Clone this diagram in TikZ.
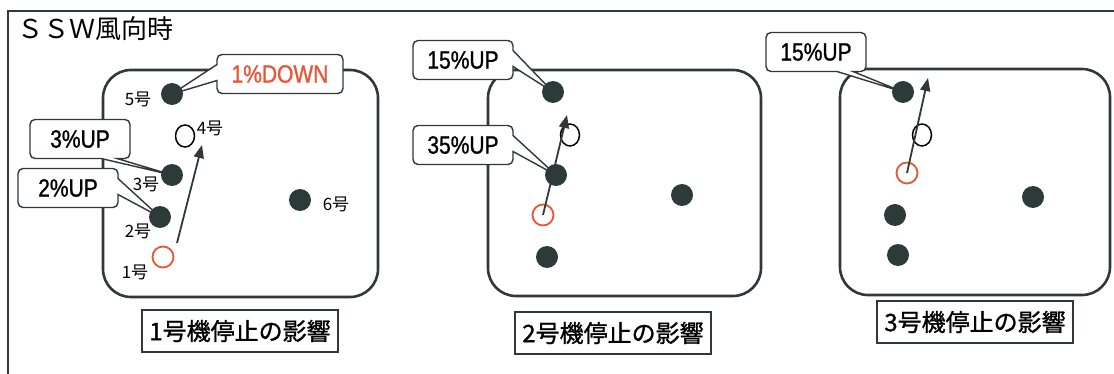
\documentclass[tikz,border=0pt]{standalone}
\usepackage{fontspec}
\setmainfont{Liberation Sans}
\newfontfamily\jpfont{Noto Sans CJK JP}
\newfontfamily\jpboldfont[FakeBold=1.2]{Noto Sans CJK JP}
\newfontfamily\pctfont[FakeStretch=0.84,FakeBold=1]{Liberation Sans}
\usetikzlibrary{shapes.callouts,shapes.geometric,arrows.meta,backgrounds}

\definecolor{dotgray}{RGB}{44,58,56}
\definecolor{linegray}{RGB}{50,55,55}
\definecolor{stopred}{RGB}{232,85,55}

\tikzset{
	unit/.style={circle,fill=dotgray,inner sep=0pt,minimum size=22pt},
	stopped/.style={circle,draw=stopred,line width=1.8pt,fill=white,inner sep=0pt,minimum size=21pt},
	idle/.style={ellipse,draw=black,line width=1.5pt,fill=white,inner sep=0pt,minimum width=19pt,minimum height=22pt},
	plant/.style={draw=linegray,line width=2.6pt,rounded corners=28pt},
	effect/.style={rectangle callout,draw=linegray,line width=1.4pt,fill=white,rounded corners=5pt,minimum width=100pt,minimum height=39pt,inner sep=0pt,callout pointer width=16pt,font=\pctfont\fontsize{25}{25}\selectfont},
	caption/.style={draw=linegray,line width=1.6pt,fill=white,minimum width=196pt,minimum height=42pt,inner sep=0pt,font=\jpboldfont\fontsize{24}{24}\selectfont},
	num/.style={font=\jpfont\fontsize{17}{17}\selectfont,inner sep=0pt},
	wind/.style={draw=linegray,line width=1.8pt,-{Triangle[length=13pt,width=10pt]}},
}

\begin{document}
\begin{tikzpicture}[x=1pt,y=-1pt]
	\useasboundingbox (0,0) rectangle (1114,374);
	
	% frame and title
	\draw[linegray,line width=1.6pt] (8,374) -- (8,11) -- (1114,11);
	\node[font=\jpfont\fontsize{26}{26}\selectfont,anchor=west,inner sep=0pt] (title) at (17,29) {ＳＳＷ風向時};
	
	% 1号機停止
	\node[unit] (a5) at (172,94) {};
	\node[idle] (a4) at (185,136) {};
	\node[unit] (a3) at (172,175) {};
	\node[unit] (a2) at (160,217) {};
	\node[stopped] (a1) at (163,257) {};
	\node[unit] (a6) at (300,200) {};
	\node[num] (n5) at (138,99) {5号};
	\node[num] (n4) at (210,128) {4号};
	\node[num] (n3) at (146,184) {3号};
	\node[num] (n2) at (138,231) {2号};
	\node[num] (n1) at (135,272) {1号};
	\node[num] (n6) at (336,204) {6号};
	\coordinate (s1) at (177,243);
	\coordinate (t1) at (202,145);
	\draw[wind] (s1) -- (t1);
	\node[caption] (cap1) at (240,331) {1号機停止の影響};
	
	% 2号機停止
	\node[unit] (b5) at (553,92) {};
	\node[idle] (b4) at (570,135) {};
	\node[unit] (b3) at (556,175) {};
	\node[stopped] (b2) at (543,215) {};
	\node[unit] (b1) at (547,257) {};
	\node[unit] (b6) at (682,195) {};
	\coordinate (t2) at (567,115);
	\draw[wind] (b2.center) -- (t2);
	\node[caption] (cap2) at (613,333) {2号機停止の影響};
	
	% 3号機停止
	\node[unit] (c5) at (903,92) {};
	\node[idle] (c4) at (922,135) {};
	\node[stopped] (c3) at (907,173) {};
	\node[unit] (c2) at (895,215) {};
	\node[unit] (c1) at (898,255) {};
	\node[unit] (c6) at (1033,197) {};
	\coordinate (t3) at (928,78);
	\draw[wind] (c3.center) -- (t3);
	\node[caption] (cap3) at (975,322) {3号機停止の影響};
	
	\begin{scope}[on background layer]
		\draw[plant] (103,70) rectangle (378,297);
		\draw[plant] (488,70) rectangle (761,296);
		\draw[plant] (840,69) rectangle (1110,295);
		
		\node[effect,minimum width=126pt,text=stopred,callout absolute pointer={(a5.center)}] (e15) at (280,74) {1\%DOWN};
		\node[effect,callout absolute pointer={(a3.center)}] (e13) at (80,139) {3\%UP};
		\node[effect,callout absolute pointer={(a2.center)}] (e12) at (68,188) {2\%UP};
		\node[effect,callout absolute pointer={(b5.center)}] (e25) at (463,60) {15\%UP};
		\node[effect,callout absolute pointer={(b3.center)}] (e23) at (463,145) {35\%UP};
		\node[effect,callout absolute pointer={(c5.center)}] (e35) at (816,52) {15\%UP};
	\end{scope}
\end{tikzpicture}
\end{document}
